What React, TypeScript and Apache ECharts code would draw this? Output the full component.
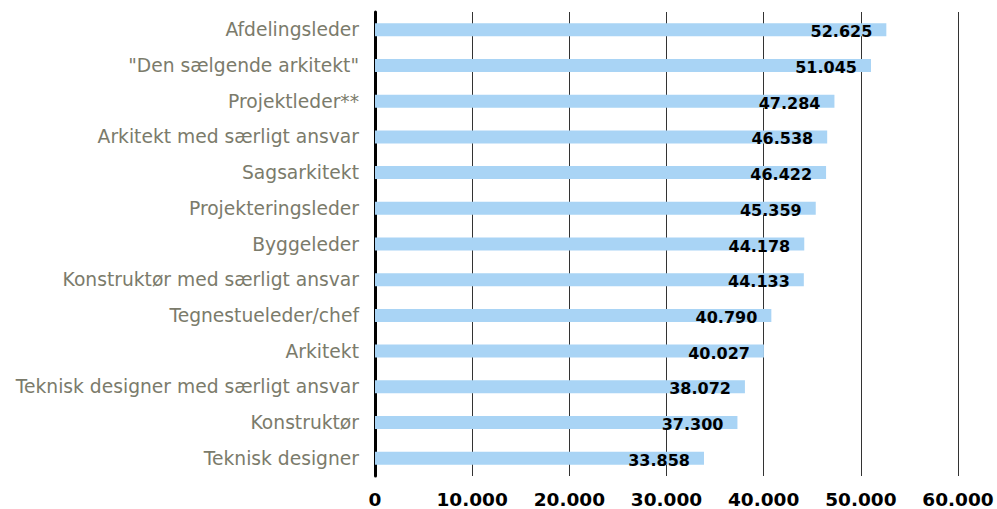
import React, { useEffect, useRef } from "react";
import * as echarts from "echarts";

const categories = [
  "Afdelingsleder",
  "\"Den sælgende arkitekt\"",
  "Projektleder**",
  "Arkitekt med særligt ansvar",
  "Sagsarkitekt",
  "Projekteringsleder",
  "Byggeleder",
  "Konstruktør med særligt ansvar",
  "Tegnestueleder/chef",
  "Arkitekt",
  "Teknisk designer med særligt ansvar",
  "Konstruktør",
  "Teknisk designer",
];
const values = [52625, 51045, 47284, 46538, 46422, 45359, 44178, 44133, 40790, 40027, 38072, 37300, 33858];

const fmt = (v: number) => {
  const s = Math.round(v).toString();
  return s.replace(/\B(?=(\d{3})+(?!\d))/g, ".");
};

export default function App() {
  const ref = useRef<HTMLDivElement>(null);
  useEffect(() => {
    if (!ref.current) return;
    const chart = echarts.init(ref.current, null, { renderer: "svg" });
    chart.setOption({
      animation: false,
      grid: { left: 375, right: 39, top: 12, bottom: 33, containLabel: false },
      xAxis: {
        type: "value",
        min: 0,
        max: 60000,
        interval: 10000,
        axisLine: { show: false },
        axisTick: { show: false },
        splitLine: { show: true, lineStyle: { color: "#333", width: 1 } },
        axisLabel: {
          formatter: (v: number) => fmt(v),
          fontFamily: "DejaVu Sans",
          fontSize: 18.5,
          fontWeight: "bold",
          color: "#000",
          margin: 14,
        },
      },
      yAxis: {
        type: "category",
        data: categories,
        inverse: true,
        axisLine: { show: true, lineStyle: { color: "#000", width: 3 } },
        axisTick: { show: false },
        axisLabel: {
          fontFamily: "DejaVu Sans",
          fontSize: 18.7,
          color: "#7b7b6b",
          margin: 16,
        },
      },
      series: [
        {
          type: "bar",
          data: values,
          barWidth: 13,
          itemStyle: { color: "#a9d4f5" },
          z: 3,
          label: {
            show: true,
            position: "insideRight",
            distance: 14,
            formatter: (p: any) => fmt(p.value),
            fontFamily: "DejaVu Sans",
            fontSize: 16,
            fontWeight: "bold",
            color: "#000",
            offset: [0, 2],
          },
        },
      ],
    });
    return () => chart.dispose();
  }, []);
  return <div ref={ref} style={{ width: 997, height: 509, position: "absolute", left: 0, top: 0 }} />;
}
